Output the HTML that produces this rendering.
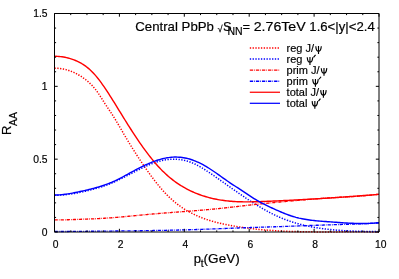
<!DOCTYPE html>
<html><head><meta charset="utf-8"><title>RAA vs pt</title>
<style>
html,body{margin:0;padding:0;background:#fff;width:399px;height:279px;overflow:hidden}
body{font-family:"Liberation Sans",sans-serif;position:relative}
svg text{font-family:"Liberation Sans",sans-serif}
svg{filter:blur(0.3px)}
</style></head><body>
<svg width="399" height="279" viewBox="0 0 399 279" style="position:absolute;left:0;top:0">
<rect width="399" height="279" fill="#fff"/>
<g fill="none" stroke-linejoin="round">
<path d="M54.50,68.26 L54.90,68.26 L55.30,68.26 L55.70,68.26 L55.80,68.27 M57.30,68.32 L57.70,68.34 L58.10,68.36 L58.50,68.39 L58.60,68.40 M60.05,68.55 L60.45,68.59 L60.85,68.65 L61.25,68.70 L61.35,68.72 M62.80,68.95 L63.20,69.03 L63.60,69.11 L64.00,69.19 L64.10,69.21 M65.55,69.54 L65.95,69.64 L66.35,69.75 L66.75,69.86 L66.80,69.87 M68.20,70.29 L68.60,70.41 L69.00,70.54 L69.40,70.68 L69.45,70.70 M70.85,71.20 L71.25,71.36 L71.65,71.51 L72.05,71.68 M73.40,72.25 L73.80,72.43 L74.20,72.62 L74.60,72.81 M75.90,73.45 L76.30,73.65 L76.70,73.86 L77.05,74.05 M78.35,74.77 L78.75,75.00 L79.15,75.24 L79.50,75.45 M80.75,76.22 L81.15,76.48 L81.55,76.74 L81.85,76.94 M83.05,77.76 L83.45,78.04 L83.85,78.33 L84.10,78.51 M85.30,79.41 L85.70,79.71 L86.10,80.03 L86.30,80.19 M87.50,81.17 L87.90,81.51 L88.30,81.85 L88.45,81.99 M89.55,82.98 L89.95,83.36 L90.35,83.74 L90.50,83.89 M91.55,84.94 L91.95,85.35 L92.35,85.78 L92.45,85.89 M93.45,86.99 L93.85,87.45 L94.25,87.92 M95.25,89.14 L95.65,89.64 L96.00,90.09 M96.90,91.29 L97.30,91.84 L97.65,92.33 M98.50,93.56 L98.90,94.15 L99.20,94.61 M100.05,95.90 L100.45,96.53 L100.75,96.99 M101.55,98.26 L101.95,98.89 L102.20,99.29 M103.05,100.64 L103.45,101.27 L103.70,101.67 M104.50,102.93 L104.90,103.55 L105.20,104.01 M106.05,105.31 L106.45,105.91 L106.75,106.36 M107.60,107.63 L108.00,108.22 L108.30,108.66 M109.15,109.92 L109.55,110.51 L109.85,110.96 M110.70,112.22 L111.10,112.83 L111.40,113.28 M112.20,114.50 L112.60,115.12 L112.90,115.59 M113.70,116.86 L114.10,117.50 L114.35,117.90 M115.15,119.20 L115.55,119.86 L115.80,120.28 M116.60,121.61 L117.00,122.28 L117.25,122.71 M118.00,123.98 L118.40,124.66 L118.65,125.09 M119.40,126.38 L119.80,127.06 L120.05,127.49 M120.80,128.79 L121.20,129.48 L121.45,129.91 M122.20,131.21 L122.60,131.90 L122.85,132.33 M123.60,133.62 L124.00,134.30 L124.25,134.73 M125.00,136.01 L125.40,136.69 L125.65,137.11 M126.45,138.46 L126.85,139.13 L127.05,139.46 M127.85,140.79 L128.25,141.45 L128.50,141.86 M129.30,143.17 L129.70,143.82 L129.95,144.23 M130.75,145.53 L131.15,146.17 L131.40,146.57 M132.25,147.93 L132.65,148.57 L132.90,148.97 M133.70,150.23 L134.10,150.86 L134.40,151.33 M135.20,152.58 L135.60,153.21 L135.90,153.67 M136.70,154.91 L137.10,155.53 L137.40,155.99 M138.25,157.29 L138.65,157.90 L138.90,158.29 M139.75,159.58 L140.15,160.18 L140.45,160.63 M141.30,161.91 L141.70,162.50 L142.00,162.95 M142.85,164.21 L143.25,164.80 L143.55,165.24 M144.40,166.48 L144.80,167.07 L145.15,167.57 M146.00,168.80 L146.40,169.37 L146.70,169.80 M147.60,171.07 L148.00,171.64 L148.35,172.13 M149.20,173.31 L149.60,173.86 L149.95,174.35 M150.85,175.57 L151.25,176.12 L151.60,176.59 M152.50,177.79 L152.90,178.32 L153.25,178.79 M154.20,180.03 L154.60,180.55 L154.95,181.00 M155.90,182.21 L156.30,182.71 L156.70,183.22 M157.65,184.39 L158.05,184.88 L158.45,185.37 M159.40,186.52 L159.80,186.99 L160.20,187.47 M161.20,188.63 L161.60,189.09 L162.00,189.55 L162.05,189.60 M163.05,190.73 L163.45,191.17 L163.85,191.61 L163.90,191.67 M164.90,192.75 L165.30,193.17 L165.70,193.59 L165.80,193.70 M166.85,194.78 L167.25,195.19 L167.65,195.59 L167.75,195.69 M168.80,196.72 L169.20,197.11 L169.60,197.49 L169.75,197.63 M170.85,198.66 L171.25,199.02 L171.65,199.38 L171.80,199.52 M172.90,200.49 L173.30,200.84 L173.70,201.18 L173.90,201.35 M175.05,202.31 L175.45,202.63 L175.85,202.96 L176.05,203.12 M177.20,204.02 L177.60,204.33 L178.00,204.63 L178.25,204.82 M179.40,205.67 L179.80,205.96 L180.20,206.25 L180.45,206.43 M181.70,207.30 L182.10,207.57 L182.50,207.84 L182.75,208.00 M184.00,208.82 L184.40,209.07 L184.80,209.32 L185.10,209.51 M186.40,210.30 L186.80,210.54 L187.20,210.77 L187.50,210.95 M188.80,211.68 L189.20,211.91 L189.60,212.12 L189.90,212.29 M191.25,213.00 L191.65,213.21 L192.05,213.41 L192.40,213.59 M193.70,214.23 L194.10,214.43 L194.50,214.62 L194.90,214.80 M196.25,215.42 L196.65,215.60 L197.05,215.78 L197.40,215.94 M198.80,216.54 L199.20,216.70 L199.60,216.87 L200.00,217.03 M201.35,217.57 L201.75,217.73 L202.15,217.88 L202.55,218.03 M203.95,218.55 L204.35,218.70 L204.75,218.84 L205.15,218.98 L205.20,219.00 M206.60,219.48 L207.00,219.62 L207.40,219.75 L207.80,219.88 M209.20,220.33 L209.60,220.46 L210.00,220.58 L210.40,220.70 L210.45,220.72 M211.90,221.15 L212.30,221.26 L212.70,221.38 L213.10,221.49 L213.15,221.51 M214.55,221.89 L214.95,222.00 L215.35,222.10 L215.75,222.21 L215.80,222.22 M217.25,222.59 L217.65,222.69 L218.05,222.79 L218.45,222.89 L218.50,222.90 M219.95,223.25 L220.35,223.34 L220.75,223.43 L221.15,223.52 L221.20,223.54 M222.65,223.86 L223.05,223.94 L223.45,224.03 L223.85,224.12 L223.95,224.14 M225.40,224.44 L225.80,224.52 L226.20,224.60 L226.60,224.68 L226.65,224.69 M228.10,224.97 L228.50,225.05 L228.90,225.13 L229.30,225.20 L229.40,225.22 M230.85,225.49 L231.25,225.56 L231.65,225.64 L232.05,225.71 L232.10,225.72 M233.60,225.98 L234.00,226.05 L234.40,226.12 L234.80,226.19 L234.85,226.20 M236.30,226.44 L236.70,226.50 L237.10,226.57 L237.50,226.63 L237.60,226.65 M239.05,226.88 L239.45,226.94 L239.85,227.00 L240.25,227.06 L240.35,227.08 M241.80,227.30 L242.20,227.36 L242.60,227.41 L243.00,227.47 L243.10,227.49 M244.55,227.69 L244.95,227.75 L245.35,227.80 L245.75,227.86 L245.85,227.87 M247.30,228.06 L247.70,228.11 L248.10,228.17 L248.50,228.22 L248.60,228.23 M250.10,228.42 L250.50,228.47 L250.90,228.52 L251.30,228.56 L251.35,228.57 M252.85,228.75 L253.25,228.79 L253.65,228.84 L254.05,228.88 L254.15,228.89 M255.60,229.05 L256.00,229.10 L256.40,229.14 L256.80,229.18 L256.90,229.19 M258.35,229.34 L258.75,229.38 L259.15,229.42 L259.55,229.46 L259.65,229.47 M261.15,229.61 L261.55,229.65 L261.95,229.69 L262.35,229.72 L262.45,229.73 M263.90,229.86 L264.30,229.90 L264.70,229.93 L265.10,229.96 L265.20,229.97 M266.65,230.09 L267.05,230.12 L267.45,230.16 L267.85,230.19 L267.95,230.19 M269.45,230.31 L269.85,230.34 L270.25,230.37 L270.65,230.40 L270.75,230.40 M272.20,230.50 L272.60,230.53 L273.00,230.56 L273.40,230.59 L273.50,230.59 M275.00,230.69 L275.40,230.71 L275.80,230.74 L276.20,230.76 L276.30,230.77 M277.75,230.85 L278.15,230.88 L278.55,230.90 L278.95,230.92 L279.05,230.93 M280.55,231.00 L280.95,231.03 L281.35,231.05 L281.75,231.07 L281.85,231.07 M283.30,231.14 L283.70,231.16 L284.10,231.18 L284.50,231.19 L284.60,231.20 M286.10,231.26 L286.50,231.28 L286.90,231.30 L287.30,231.31 L287.40,231.32 M288.90,231.37 L289.30,231.39 L289.70,231.40 L290.10,231.42 L290.15,231.42 M291.65,231.47 L292.05,231.48 L292.45,231.50 L292.85,231.51 L292.95,231.51 M294.45,231.56 L294.85,231.57 L295.25,231.58 L295.65,231.59 L295.75,231.59 M297.20,231.63 L297.60,231.64 L298.00,231.65 L298.40,231.66 L298.50,231.66 M300.00,231.70 L300.40,231.70 L300.80,231.71 L301.20,231.72 L301.30,231.72 M302.75,231.75 L303.15,231.76 L303.55,231.76 L303.95,231.77 L304.05,231.77 M305.55,231.80 L305.95,231.80 L306.35,231.81 L306.75,231.81 L306.85,231.81 M308.35,231.83 L308.75,231.84 L309.15,231.84 L309.55,231.85 L309.65,231.85 M311.10,231.86 L311.50,231.86 L311.90,231.87 L312.30,231.87 L312.40,231.87 M313.90,231.88 L314.30,231.89 L314.70,231.89 L315.10,231.89 L315.20,231.89 M316.65,231.90 L317.05,231.90 L317.45,231.90 L317.85,231.90 L317.95,231.90 M319.45,231.90 L319.85,231.90 L320.25,231.90 L320.65,231.90 L320.75,231.90 M322.25,231.90 L322.65,231.90 L323.05,231.90 L323.45,231.90 L323.55,231.90 M325.00,231.90 L325.40,231.90 L325.80,231.90 L326.20,231.90 L326.30,231.90 M327.80,231.90 L328.20,231.90 L328.60,231.90 L329.00,231.90 L329.10,231.90 M330.55,231.90 L330.95,231.90 L331.35,231.90 L331.75,231.90 L331.85,231.90 M333.35,231.90 L333.75,231.90 L334.15,231.89 L334.55,231.89 L334.65,231.89 M336.15,231.89 L336.55,231.88 L336.95,231.88 L337.35,231.88 L337.45,231.88 M338.90,231.87 L339.30,231.87 L339.70,231.87 L340.10,231.87 L340.20,231.87 M341.70,231.86 L342.10,231.86 L342.50,231.86 L342.90,231.86 L343.00,231.86 M344.45,231.85 L344.85,231.85 L345.25,231.85 L345.65,231.85 L345.75,231.85 M347.25,231.84 L347.65,231.84 L348.05,231.84 L348.45,231.84 L348.55,231.84 M350.05,231.83 L350.45,231.83 L350.85,231.83 L351.25,231.83 L351.35,231.83 M352.80,231.83 L353.20,231.82 L353.60,231.82 L354.00,231.82 L354.10,231.82 M355.60,231.82 L356.00,231.82 L356.40,231.82 L356.80,231.82 L356.90,231.82 M358.35,231.82 L358.75,231.82 L359.15,231.82 L359.55,231.82 L359.65,231.82 M361.15,231.83 L361.55,231.83 L361.95,231.83 L362.35,231.83 L362.45,231.83 M363.95,231.83 L364.35,231.84 L364.75,231.84 L365.15,231.84 L365.25,231.84 M366.70,231.85 L367.10,231.85 L367.50,231.85 L367.90,231.86 L368.00,231.86 M369.50,231.87 L369.90,231.87 L370.30,231.88 L370.70,231.88 L370.80,231.88 M372.25,231.90 L372.65,231.90 L373.05,231.90 L373.45,231.90 L373.55,231.90 M375.05,231.90 L375.45,231.90 L375.85,231.90 L376.25,231.90 L376.35,231.90 M377.85,231.90 L378.25,231.90 L378.65,231.90 L379.00,231.90" stroke="#ff0000" stroke-width="1.5"/>
<path d="M54.50,195.29 L54.90,195.29 L55.30,195.29 L55.70,195.29 L55.80,195.28 M57.30,195.25 L57.70,195.24 L58.10,195.22 L58.50,195.21 L58.60,195.20 M60.10,195.13 L60.50,195.11 L60.90,195.08 L61.30,195.05 L61.40,195.05 M62.85,194.94 L63.25,194.90 L63.65,194.87 L64.05,194.83 L64.15,194.82 M65.60,194.68 L66.00,194.64 L66.40,194.59 L66.80,194.55 L66.90,194.54 M68.40,194.35 L68.80,194.30 L69.20,194.25 L69.60,194.19 L69.65,194.19 M71.15,193.97 L71.55,193.91 L71.95,193.85 L72.35,193.79 L72.40,193.78 M73.90,193.54 L74.30,193.47 L74.70,193.40 L75.10,193.33 L75.15,193.32 M76.60,193.06 L77.00,192.99 L77.40,192.91 L77.80,192.83 L77.90,192.81 M79.35,192.53 L79.75,192.45 L80.15,192.36 L80.55,192.28 L80.60,192.27 M82.05,191.96 L82.45,191.87 L82.85,191.79 L83.25,191.70 L83.35,191.68 M84.80,191.35 L85.20,191.25 L85.60,191.16 L86.00,191.07 L86.05,191.05 M87.50,190.71 L87.90,190.61 L88.30,190.51 L88.70,190.41 L88.75,190.40 M90.20,190.04 L90.60,189.94 L91.00,189.83 L91.40,189.73 L91.45,189.72 M92.90,189.34 L93.30,189.23 L93.70,189.13 L94.10,189.02 L94.15,189.01 M95.55,188.62 L95.95,188.51 L96.35,188.40 L96.75,188.28 L96.80,188.27 M98.25,187.85 L98.65,187.73 L99.05,187.61 L99.45,187.49 L99.50,187.47 M100.90,187.04 L101.30,186.91 L101.70,186.78 L102.10,186.66 L102.15,186.64 M103.55,186.17 L103.95,186.04 L104.35,185.90 L104.75,185.76 M106.15,185.26 L106.55,185.11 L106.95,184.97 L107.35,184.82 L107.40,184.80 M108.75,184.28 L109.15,184.12 L109.55,183.96 L109.95,183.80 M111.35,183.22 L111.75,183.05 L112.15,182.88 L112.55,182.71 M113.90,182.11 L114.30,181.94 L114.70,181.76 L115.05,181.60 M116.40,180.98 L116.80,180.79 L117.20,180.60 L117.60,180.41 M118.95,179.77 L119.35,179.57 L119.75,179.38 L120.10,179.21 M121.45,178.54 L121.85,178.34 L122.25,178.14 L122.60,177.97 M123.90,177.31 L124.30,177.11 L124.70,176.91 L125.05,176.73 M126.40,176.03 L126.80,175.83 L127.20,175.62 L127.55,175.44 M128.85,174.76 L129.25,174.56 L129.65,174.35 L130.00,174.17 M131.30,173.49 L131.70,173.28 L132.10,173.07 L132.45,172.89 M133.80,172.19 L134.20,171.98 L134.60,171.78 L134.95,171.60 M136.25,170.93 L136.65,170.73 L137.05,170.52 L137.40,170.34 M138.75,169.66 L139.15,169.46 L139.55,169.26 L139.90,169.09 M141.25,168.43 L141.65,168.23 L142.05,168.04 L142.40,167.87 M143.75,167.23 L144.15,167.04 L144.55,166.85 L144.90,166.69 M146.25,166.08 L146.65,165.90 L147.05,165.72 L147.45,165.55 M148.80,164.96 L149.20,164.80 L149.60,164.63 L150.00,164.46 M151.40,163.90 L151.80,163.74 L152.20,163.59 L152.60,163.44 M154.00,162.92 L154.40,162.78 L154.80,162.64 L155.20,162.50 M156.60,162.03 L157.00,161.90 L157.40,161.78 L157.80,161.66 L157.85,161.64 M159.30,161.22 L159.70,161.11 L160.10,161.00 L160.50,160.90 L160.55,160.88 M161.95,160.54 L162.35,160.45 L162.75,160.36 L163.15,160.28 L163.25,160.26 M164.70,159.98 L165.10,159.91 L165.50,159.84 L165.90,159.77 L165.95,159.77 M167.45,159.55 L167.85,159.51 L168.25,159.46 L168.65,159.42 L168.75,159.41 M170.20,159.28 L170.60,159.25 L171.00,159.23 L171.40,159.21 L171.50,159.20 M173.00,159.16 L173.40,159.16 L173.80,159.15 L174.20,159.16 L174.30,159.16 M175.75,159.20 L176.15,159.21 L176.55,159.24 L176.95,159.26 L177.05,159.27 M178.55,159.40 L178.95,159.44 L179.35,159.49 L179.75,159.53 L179.80,159.54 M181.30,159.76 L181.70,159.82 L182.10,159.89 L182.50,159.97 L182.55,159.98 M184.00,160.27 L184.40,160.36 L184.80,160.46 L185.20,160.56 L185.30,160.58 M186.70,160.95 L187.10,161.07 L187.50,161.19 L187.90,161.31 L187.95,161.32 M189.35,161.78 L189.75,161.92 L190.15,162.06 L190.55,162.21 L190.60,162.23 M191.95,162.75 L192.35,162.92 L192.75,163.08 L193.15,163.25 M194.50,163.86 L194.90,164.05 L195.30,164.24 L195.70,164.43 M197.00,165.08 L197.40,165.29 L197.80,165.50 L198.15,165.68 M199.45,166.40 L199.85,166.62 L200.25,166.85 L200.60,167.05 M201.90,167.81 L202.30,168.05 L202.70,168.30 L203.00,168.48 M204.25,169.25 L204.65,169.51 L205.05,169.76 L205.35,169.95 M206.60,170.76 L207.00,171.02 L207.40,171.29 L207.65,171.45 M208.90,172.29 L209.30,172.56 L209.70,172.83 L209.95,173.00 M211.20,173.86 L211.60,174.13 L212.00,174.41 L212.25,174.58 M213.50,175.45 L213.90,175.73 L214.30,176.01 L214.55,176.19 M215.75,177.03 L216.15,177.31 L216.55,177.59 L216.80,177.77 M218.05,178.65 L218.45,178.93 L218.85,179.21 L219.10,179.39 M220.30,180.23 L220.70,180.52 L221.10,180.80 L221.35,180.98 M222.60,181.86 L223.00,182.14 L223.40,182.43 L223.65,182.60 M224.85,183.45 L225.25,183.73 L225.65,184.02 L225.90,184.19 M227.10,185.04 L227.50,185.33 L227.90,185.61 L228.15,185.78 M229.40,186.67 L229.80,186.95 L230.20,187.23 L230.45,187.41 M231.65,188.25 L232.05,188.53 L232.45,188.81 L232.70,188.99 M233.95,189.86 L234.35,190.14 L234.75,190.42 L235.00,190.60 M236.20,191.43 L236.60,191.71 L237.00,191.99 L237.30,192.20 M238.50,193.03 L238.90,193.30 L239.30,193.58 L239.55,193.75 M240.80,194.61 L241.20,194.88 L241.60,195.16 L241.85,195.33 M243.10,196.18 L243.50,196.45 L243.90,196.72 L244.15,196.89 M245.40,197.73 L245.80,198.00 L246.20,198.26 L246.45,198.43 M247.70,199.26 L248.10,199.53 L248.50,199.79 L248.80,199.99 M250.05,200.80 L250.45,201.06 L250.85,201.32 L251.10,201.49 M252.35,202.29 L252.75,202.55 L253.15,202.80 L253.45,202.99 M254.70,203.78 L255.10,204.03 L255.50,204.28 L255.80,204.47 M257.05,205.24 L257.45,205.49 L257.85,205.73 L258.20,205.95 M259.45,206.70 L259.85,206.94 L260.25,207.18 L260.55,207.36 M261.85,208.12 L262.25,208.36 L262.65,208.59 L262.95,208.76 M264.25,209.50 L264.65,209.73 L265.05,209.96 L265.40,210.15 M266.70,210.87 L267.10,211.09 L267.50,211.31 L267.80,211.47 M269.10,212.17 L269.50,212.38 L269.90,212.59 L270.25,212.77 M271.60,213.47 L272.00,213.67 L272.40,213.87 L272.75,214.04 M274.10,214.71 L274.50,214.90 L274.90,215.09 L275.25,215.26 M276.60,215.89 L277.00,216.08 L277.40,216.26 L277.75,216.42 M279.10,217.02 L279.50,217.19 L279.90,217.37 L280.30,217.54 M281.70,218.13 L282.10,218.29 L282.50,218.45 L282.90,218.62 M284.25,219.15 L284.65,219.31 L285.05,219.46 L285.45,219.61 M286.85,220.13 L287.25,220.28 L287.65,220.43 L288.05,220.57 L288.10,220.59 M289.50,221.08 L289.90,221.21 L290.30,221.35 L290.70,221.48 M292.10,221.94 L292.50,222.07 L292.90,222.20 L293.30,222.33 L293.35,222.34 M294.75,222.77 L295.15,222.89 L295.55,223.01 L295.95,223.13 L296.00,223.14 M297.45,223.56 L297.85,223.67 L298.25,223.78 L298.65,223.89 L298.70,223.91 M300.10,224.28 L300.50,224.38 L300.90,224.49 L301.30,224.59 L301.40,224.61 M302.80,224.96 L303.20,225.06 L303.60,225.16 L304.00,225.25 L304.10,225.27 M305.50,225.60 L305.90,225.69 L306.30,225.78 L306.70,225.86 L306.80,225.88 M308.25,226.19 L308.65,226.28 L309.05,226.36 L309.45,226.44 L309.50,226.45 M310.95,226.74 L311.35,226.81 L311.75,226.89 L312.15,226.96 L312.25,226.98 M313.70,227.25 L314.10,227.32 L314.50,227.39 L314.90,227.46 L315.00,227.47 M316.45,227.71 L316.85,227.78 L317.25,227.84 L317.65,227.91 L317.70,227.92 M319.20,228.15 L319.60,228.21 L320.00,228.26 L320.40,228.32 L320.45,228.33 M321.95,228.54 L322.35,228.60 L322.75,228.65 L323.15,228.70 L323.25,228.72 M324.70,228.90 L325.10,228.95 L325.50,229.00 L325.90,229.05 L326.00,229.06 M327.45,229.23 L327.85,229.28 L328.25,229.32 L328.65,229.37 L328.75,229.38 M330.20,229.53 L330.60,229.58 L331.00,229.62 L331.40,229.66 L331.50,229.67 M333.00,229.81 L333.40,229.85 L333.80,229.89 L334.20,229.92 L334.30,229.93 M335.75,230.06 L336.15,230.09 L336.55,230.13 L336.95,230.16 L337.05,230.17 M338.50,230.28 L338.90,230.31 L339.30,230.34 L339.70,230.37 L339.80,230.38 M341.30,230.48 L341.70,230.51 L342.10,230.53 L342.50,230.56 L342.60,230.57 M344.05,230.65 L344.45,230.68 L344.85,230.70 L345.25,230.72 L345.35,230.73 M346.85,230.81 L347.25,230.83 L347.65,230.85 L348.05,230.87 L348.15,230.88 M349.60,230.95 L350.00,230.96 L350.40,230.98 L350.80,231.00 L350.90,231.00 M352.40,231.07 L352.80,231.08 L353.20,231.10 L353.60,231.11 L353.70,231.11 M355.20,231.17 L355.60,231.18 L356.00,231.19 L356.40,231.21 L356.50,231.21 M357.95,231.25 L358.35,231.27 L358.75,231.28 L359.15,231.29 L359.25,231.29 M360.75,231.33 L361.15,231.34 L361.55,231.35 L361.95,231.36 L362.05,231.36 M363.50,231.39 L363.90,231.40 L364.30,231.41 L364.70,231.41 L364.80,231.42 M366.30,231.44 L366.70,231.45 L367.10,231.46 L367.50,231.46 L367.60,231.46 M369.10,231.49 L369.50,231.49 L369.90,231.50 L370.30,231.50 L370.35,231.50 M371.85,231.52 L372.25,231.53 L372.65,231.53 L373.05,231.54 L373.15,231.54 M374.65,231.55 L375.05,231.56 L375.45,231.56 L375.85,231.57 L375.95,231.57 M377.40,231.58 L377.80,231.59 L378.20,231.59 L378.60,231.59 L378.70,231.59" stroke="#0000ff" stroke-width="1.5"/>
<path d="M54.50,219.94 L54.90,219.94 L55.30,219.94 L55.70,219.94 L56.10,219.94 L56.50,219.94 L56.90,219.94 L57.30,219.93 L57.70,219.93 L57.80,219.93 M58.85,219.92 L59.25,219.92 L59.55,219.91 M60.60,219.90 L61.00,219.89 L61.40,219.88 L61.80,219.88 L62.20,219.87 L62.60,219.86 L63.00,219.85 L63.40,219.85 L63.80,219.84 L63.90,219.83 M64.95,219.81 L65.35,219.80 L65.65,219.79 M66.65,219.76 L67.05,219.75 L67.45,219.74 L67.85,219.73 L68.25,219.72 L68.65,219.71 L69.05,219.69 L69.45,219.68 L69.85,219.67 L69.95,219.67 M71.00,219.63 L71.40,219.62 L71.70,219.61 M72.75,219.57 L73.15,219.56 L73.55,219.54 L73.95,219.53 L74.35,219.52 L74.75,219.50 L75.15,219.49 L75.55,219.47 L75.95,219.46 L76.05,219.45 M77.10,219.42 L77.50,219.40 L77.80,219.39 M78.80,219.35 L79.20,219.34 L79.60,219.33 L80.00,219.31 L80.40,219.30 L80.80,219.28 L81.20,219.27 L81.60,219.25 L82.00,219.24 L82.10,219.24 M83.15,219.20 L83.55,219.18 L83.85,219.17 M84.85,219.14 L85.25,219.12 L85.65,219.11 L86.05,219.09 L86.45,219.08 L86.85,219.06 L87.25,219.05 L87.65,219.03 L88.05,219.02 L88.15,219.02 M89.20,218.98 L89.60,218.96 L89.90,218.95 M90.95,218.91 L91.35,218.89 L91.75,218.88 L92.15,218.86 L92.55,218.85 L92.95,218.83 L93.35,218.81 L93.75,218.80 L94.15,218.78 L94.25,218.77 M95.25,218.73 L95.65,218.71 L95.95,218.70 M97.00,218.65 L97.40,218.63 L97.80,218.61 L98.20,218.60 L98.60,218.58 L99.00,218.56 L99.40,218.54 L99.80,218.52 L100.20,218.49 L100.30,218.49 M101.35,218.43 L101.75,218.41 L102.05,218.40 M103.05,218.34 L103.45,218.32 L103.85,218.29 L104.25,218.27 L104.65,218.24 L105.05,218.22 L105.45,218.19 L105.85,218.17 L106.25,218.14 L106.35,218.14 M107.40,218.07 L107.80,218.04 L108.10,218.02 M109.10,217.95 L109.50,217.92 L109.90,217.89 L110.30,217.86 L110.70,217.83 L111.10,217.80 L111.50,217.77 L111.90,217.74 L112.30,217.71 L112.40,217.70 M113.45,217.62 L113.85,217.59 L114.15,217.57 M115.15,217.49 L115.55,217.45 L115.95,217.42 L116.35,217.39 L116.75,217.35 L117.15,217.32 L117.55,217.29 L117.95,217.25 L118.35,217.22 L118.45,217.21 M119.50,217.12 L119.90,217.08 L120.20,217.05 M121.20,216.97 L121.60,216.93 L122.00,216.89 L122.40,216.86 L122.80,216.82 L123.20,216.78 L123.60,216.75 L124.00,216.71 L124.40,216.67 L124.50,216.67 M125.55,216.57 L125.95,216.53 L126.25,216.50 M127.25,216.41 L127.65,216.37 L128.05,216.33 L128.45,216.29 L128.85,216.26 L129.25,216.22 L129.65,216.18 L130.05,216.14 L130.45,216.10 L130.55,216.09 M131.60,215.99 L132.00,215.95 L132.30,215.92 M133.30,215.83 L133.70,215.79 L134.10,215.75 L134.50,215.71 L134.90,215.67 L135.30,215.63 L135.70,215.59 L136.10,215.56 L136.50,215.52 L136.60,215.51 M137.65,215.41 L138.05,215.37 L138.30,215.34 M139.35,215.24 L139.75,215.20 L140.15,215.16 L140.55,215.13 L140.95,215.09 L141.35,215.05 L141.75,215.01 L142.15,214.97 L142.55,214.93 L142.60,214.93 M143.65,214.83 L144.05,214.79 L144.35,214.76 M145.40,214.66 L145.80,214.63 L146.20,214.59 L146.60,214.55 L147.00,214.52 L147.40,214.48 L147.80,214.44 L148.20,214.40 L148.60,214.37 L148.65,214.36 M149.70,214.27 L150.10,214.23 L150.40,214.21 M151.45,214.11 L151.85,214.08 L152.25,214.04 L152.65,214.01 L153.05,213.97 L153.45,213.94 L153.85,213.90 L154.25,213.87 L154.65,213.84 L154.70,213.83 M155.75,213.74 L156.15,213.71 L156.45,213.68 M157.50,213.60 L157.90,213.56 L158.30,213.53 L158.70,213.50 L159.10,213.46 L159.50,213.43 L159.90,213.40 L160.30,213.37 L160.70,213.33 L160.75,213.33 M161.80,213.25 L162.20,213.21 L162.50,213.19 M163.55,213.11 L163.95,213.07 L164.35,213.04 L164.75,213.01 L165.15,212.98 L165.55,212.95 L165.95,212.92 L166.35,212.89 L166.75,212.86 L166.80,212.85 M167.85,212.77 L168.25,212.74 L168.55,212.72 M169.60,212.64 L170.00,212.61 L170.40,212.58 L170.80,212.55 L171.20,212.51 L171.60,212.48 L172.00,212.45 L172.40,212.42 L172.80,212.39 L172.85,212.39 M173.90,212.31 L174.30,212.28 L174.60,212.26 M175.65,212.18 L176.05,212.15 L176.45,212.12 L176.85,212.09 L177.25,212.06 L177.65,212.03 L178.05,212.00 L178.45,211.97 L178.85,211.94 L178.90,211.94 M179.95,211.86 L180.35,211.83 L180.65,211.80 M181.70,211.73 L182.10,211.70 L182.50,211.67 L182.90,211.64 L183.30,211.60 L183.70,211.57 L184.10,211.54 L184.50,211.51 L184.90,211.48 L184.95,211.48 M186.00,211.40 L186.40,211.37 L186.70,211.35 M187.75,211.27 L188.15,211.24 L188.55,211.21 L188.95,211.18 L189.35,211.14 L189.75,211.11 L190.15,211.08 L190.55,211.05 L190.95,211.02 L191.05,211.01 M192.05,210.93 L192.45,210.90 L192.75,210.88 M193.80,210.80 L194.20,210.77 L194.60,210.73 L195.00,210.70 L195.40,210.67 L195.80,210.64 L196.20,210.61 L196.60,210.57 L197.00,210.54 L197.10,210.53 M198.10,210.45 L198.50,210.42 L198.80,210.39 M199.85,210.31 L200.25,210.27 L200.65,210.24 L201.05,210.21 L201.45,210.17 L201.85,210.14 L202.25,210.10 L202.65,210.07 L203.05,210.04 L203.15,210.03 M204.15,209.94 L204.55,209.91 L204.85,209.88 M205.90,209.79 L206.30,209.75 L206.70,209.72 L207.10,209.68 L207.50,209.65 L207.90,209.61 L208.30,209.57 L208.70,209.54 L209.10,209.50 L209.15,209.49 M210.20,209.40 L210.60,209.36 L210.90,209.33 M211.95,209.23 L212.35,209.19 L212.75,209.16 L213.15,209.12 L213.55,209.08 L213.95,209.04 L214.35,209.00 L214.75,208.96 L215.15,208.92 L215.20,208.92 M216.25,208.81 L216.65,208.77 L216.95,208.74 M217.95,208.64 L218.35,208.60 L218.75,208.56 L219.15,208.52 L219.55,208.47 L219.95,208.43 L220.35,208.39 L220.75,208.35 L221.15,208.31 L221.25,208.29 M222.30,208.18 L222.70,208.14 L223.00,208.11 M224.00,208.00 L224.40,207.96 L224.80,207.91 L225.20,207.87 L225.60,207.82 L226.00,207.78 L226.40,207.74 L226.80,207.69 L227.20,207.65 L227.30,207.64 M228.35,207.52 L228.75,207.47 L229.05,207.44 M230.05,207.33 L230.45,207.28 L230.85,207.24 L231.25,207.19 L231.65,207.15 L232.05,207.10 L232.45,207.06 L232.85,207.01 L233.25,206.96 L233.30,206.96 M234.35,206.84 L234.75,206.79 L235.05,206.76 M236.05,206.64 L236.45,206.60 L236.85,206.55 L237.25,206.50 L237.65,206.46 L238.05,206.41 L238.45,206.37 L238.85,206.32 L239.25,206.27 L239.35,206.26 M240.40,206.14 L240.80,206.09 L241.10,206.06 M242.10,205.94 L242.50,205.90 L242.90,205.85 L243.30,205.81 L243.70,205.76 L244.10,205.71 L244.50,205.67 L244.90,205.62 L245.30,205.58 L245.40,205.56 M246.40,205.45 L246.80,205.40 L247.10,205.37 M248.15,205.25 L248.55,205.20 L248.95,205.16 L249.35,205.11 L249.75,205.07 L250.15,205.02 L250.55,204.98 L250.95,204.93 L251.35,204.89 L251.40,204.88 M252.45,204.76 L252.85,204.72 L253.15,204.69 M254.15,204.58 L254.55,204.53 L254.95,204.49 L255.35,204.44 L255.75,204.40 L256.15,204.36 L256.55,204.31 L256.95,204.27 L257.35,204.23 L257.45,204.22 M258.50,204.10 L258.90,204.06 L259.20,204.03 M260.20,203.92 L260.60,203.88 L261.00,203.84 L261.40,203.80 L261.80,203.76 L262.20,203.72 L262.60,203.68 L263.00,203.63 L263.40,203.59 L263.50,203.58 M264.55,203.48 L264.95,203.44 L265.20,203.41 M266.25,203.31 L266.65,203.27 L267.05,203.23 L267.45,203.19 L267.85,203.15 L268.25,203.11 L268.65,203.07 L269.05,203.03 L269.45,202.99 L269.50,202.99 M270.55,202.89 L270.95,202.85 L271.25,202.82 M272.30,202.72 L272.70,202.68 L273.10,202.64 L273.50,202.60 L273.90,202.57 L274.30,202.53 L274.70,202.49 L275.10,202.45 L275.50,202.42 L275.55,202.41 M276.60,202.31 L277.00,202.28 L277.30,202.25 M278.30,202.16 L278.70,202.12 L279.10,202.08 L279.50,202.04 L279.90,202.01 L280.30,201.97 L280.70,201.93 L281.10,201.90 L281.50,201.86 L281.60,201.85 M282.65,201.75 L283.05,201.72 L283.35,201.69 M284.35,201.60 L284.75,201.56 L285.15,201.52 L285.55,201.49 L285.95,201.45 L286.35,201.41 L286.75,201.38 L287.15,201.34 L287.55,201.30 L287.65,201.29 M288.70,201.20 L289.10,201.16 L289.40,201.13 M290.40,201.04 L290.80,201.01 L291.20,200.97 L291.60,200.93 L292.00,200.90 L292.40,200.86 L292.80,200.83 L293.20,200.79 L293.60,200.75 L293.70,200.74 M294.75,200.65 L295.15,200.61 L295.45,200.59 M296.45,200.50 L296.85,200.46 L297.25,200.42 L297.65,200.39 L298.05,200.35 L298.45,200.32 L298.85,200.28 L299.25,200.25 L299.65,200.21 L299.75,200.20 M300.80,200.11 L301.20,200.07 L301.50,200.05 M302.50,199.96 L302.90,199.93 L303.30,199.89 L303.70,199.86 L304.10,199.82 L304.50,199.79 L304.90,199.75 L305.30,199.72 L305.70,199.68 L305.80,199.68 M306.85,199.59 L307.25,199.55 L307.55,199.53 M308.55,199.44 L308.95,199.41 L309.35,199.38 L309.75,199.34 L310.15,199.31 L310.55,199.28 L310.95,199.25 L311.35,199.21 L311.75,199.18 L311.85,199.17 M312.90,199.09 L313.30,199.06 L313.60,199.03 M314.60,198.95 L315.00,198.92 L315.40,198.89 L315.80,198.86 L316.20,198.83 L316.60,198.80 L317.00,198.77 L317.40,198.73 L317.80,198.70 L317.90,198.70 M318.95,198.62 L319.35,198.59 L319.65,198.56 M320.65,198.49 L321.05,198.46 L321.45,198.43 L321.85,198.40 L322.25,198.38 L322.65,198.35 L323.05,198.32 L323.45,198.29 L323.85,198.26 L323.95,198.26 M325.00,198.18 L325.40,198.16 L325.70,198.13 M326.70,198.07 L327.10,198.04 L327.50,198.01 L327.90,197.99 L328.30,197.96 L328.70,197.94 L329.10,197.91 L329.50,197.89 L329.90,197.86 L330.00,197.85 M331.05,197.79 L331.45,197.77 L331.75,197.75 M332.75,197.69 L333.15,197.66 L333.55,197.64 L333.95,197.62 L334.35,197.59 L334.75,197.57 L335.15,197.55 L335.55,197.52 L335.95,197.50 L336.05,197.50 M337.10,197.44 L337.50,197.41 L337.80,197.40 M338.85,197.34 L339.25,197.32 L339.65,197.30 L340.05,197.27 L340.45,197.25 L340.85,197.23 L341.25,197.21 L341.65,197.19 L342.05,197.16 L342.10,197.16 M343.15,197.10 L343.55,197.08 L343.85,197.06 M344.90,197.01 L345.30,196.98 L345.70,196.96 L346.10,196.94 L346.50,196.92 L346.90,196.89 L347.30,196.87 L347.70,196.85 L348.10,196.83 L348.20,196.82 M349.25,196.76 L349.65,196.74 L349.95,196.72 M350.95,196.66 L351.35,196.64 L351.75,196.61 L352.15,196.59 L352.55,196.56 L352.95,196.54 L353.35,196.51 L353.75,196.49 L354.15,196.46 L354.25,196.46 M355.30,196.39 L355.70,196.36 L356.00,196.34 M357.00,196.28 L357.40,196.25 L357.80,196.22 L358.20,196.20 L358.60,196.17 L359.00,196.14 L359.40,196.11 L359.80,196.08 L360.20,196.05 L360.30,196.05 M361.35,195.97 L361.75,195.94 L362.05,195.91 M363.05,195.84 L363.45,195.80 L363.85,195.77 L364.25,195.74 L364.65,195.70 L365.05,195.67 L365.45,195.64 L365.85,195.60 L366.25,195.57 L366.35,195.56 M367.40,195.47 L367.80,195.43 L368.10,195.40 M369.10,195.31 L369.50,195.27 L369.90,195.23 L370.30,195.19 L370.70,195.15 L371.10,195.11 L371.50,195.07 L371.90,195.03 L372.30,194.99 L372.40,194.98 M373.45,194.86 L373.85,194.82 L374.15,194.79 M375.15,194.67 L375.55,194.63 L375.95,194.58 L376.35,194.53 L376.75,194.48 L377.15,194.43 L377.55,194.38 L377.95,194.33 L378.35,194.28 L378.40,194.28" stroke="#ff0000" stroke-width="1.35"/>
<path d="M54.50,231.49 L54.90,231.49 L55.30,231.49 L55.70,231.49 L56.10,231.49 L56.50,231.49 L56.90,231.49 L57.30,231.49 L57.70,231.49 L57.80,231.49 M58.85,231.48 L59.25,231.48 L59.55,231.48 M60.60,231.48 L61.00,231.48 L61.40,231.48 L61.80,231.48 L62.20,231.48 L62.60,231.47 L63.00,231.47 L63.40,231.47 L63.80,231.47 L63.90,231.47 M64.95,231.47 L65.35,231.46 L65.65,231.46 M66.65,231.46 L67.05,231.46 L67.45,231.45 L67.85,231.45 L68.25,231.45 L68.65,231.45 L69.05,231.44 L69.45,231.44 L69.85,231.44 L69.95,231.44 M71.00,231.43 L71.40,231.43 L71.70,231.43 M72.75,231.42 L73.15,231.42 L73.55,231.42 L73.95,231.41 L74.35,231.41 L74.75,231.41 L75.15,231.40 L75.55,231.40 L75.95,231.40 L76.05,231.40 M77.10,231.39 L77.50,231.39 L77.80,231.38 M78.80,231.38 L79.20,231.37 L79.60,231.37 L80.00,231.37 L80.40,231.36 L80.80,231.36 L81.20,231.35 L81.60,231.35 L82.00,231.35 L82.10,231.35 M83.15,231.34 L83.55,231.33 L83.85,231.33 M84.85,231.32 L85.25,231.32 L85.65,231.31 L86.05,231.31 L86.45,231.31 L86.85,231.30 L87.25,231.30 L87.65,231.29 L88.05,231.29 L88.15,231.29 M89.20,231.28 L89.60,231.28 L89.90,231.27 M90.95,231.26 L91.35,231.26 L91.75,231.25 L92.15,231.25 L92.55,231.25 L92.95,231.24 L93.35,231.24 L93.75,231.23 L94.15,231.23 L94.25,231.23 M95.30,231.22 L95.70,231.21 L96.00,231.21 M97.00,231.20 L97.40,231.19 L97.80,231.19 L98.20,231.19 L98.60,231.18 L99.00,231.18 L99.40,231.17 L99.80,231.17 L100.20,231.16 L100.30,231.16 M101.35,231.15 L101.75,231.15 L102.05,231.15 M103.10,231.13 L103.50,231.13 L103.90,231.13 L104.30,231.12 L104.70,231.12 L105.10,231.11 L105.50,231.11 L105.90,231.10 L106.30,231.10 L106.40,231.10 M107.45,231.09 L107.85,231.08 L108.15,231.08 M109.15,231.07 L109.55,231.07 L109.95,231.06 L110.35,231.06 L110.75,231.05 L111.15,231.05 L111.55,231.05 L111.95,231.04 L112.35,231.04 L112.45,231.04 M113.50,231.03 L113.90,231.02 L114.20,231.02 M115.20,231.01 L115.60,231.00 L116.00,231.00 L116.40,231.00 L116.80,230.99 L117.20,230.99 L117.60,230.98 L118.00,230.98 L118.40,230.98 L118.50,230.97 M119.55,230.96 L119.95,230.96 L120.25,230.96 M121.30,230.95 L121.70,230.94 L122.10,230.94 L122.50,230.93 L122.90,230.93 L123.30,230.92 L123.70,230.92 L124.10,230.92 L124.50,230.91 L124.60,230.91 M125.65,230.90 L126.05,230.89 L126.35,230.89 M127.35,230.88 L127.75,230.87 L128.15,230.87 L128.55,230.87 L128.95,230.86 L129.35,230.86 L129.75,230.85 L130.15,230.85 L130.55,230.84 L130.65,230.84 M131.70,230.83 L132.10,230.82 L132.40,230.82 M133.45,230.81 L133.85,230.80 L134.25,230.80 L134.65,230.79 L135.05,230.79 L135.45,230.78 L135.85,230.78 L136.25,230.77 L136.65,230.77 L136.75,230.77 M137.80,230.76 L138.20,230.75 L138.50,230.75 M139.50,230.73 L139.90,230.73 L140.30,230.72 L140.70,230.72 L141.10,230.71 L141.50,230.71 L141.90,230.70 L142.30,230.70 L142.70,230.69 L142.80,230.69 M143.85,230.67 L144.25,230.67 L144.55,230.66 M145.55,230.65 L145.95,230.64 L146.35,230.64 L146.75,230.63 L147.15,230.63 L147.55,230.62 L147.95,230.62 L148.35,230.61 L148.75,230.60 L148.85,230.60 M149.90,230.59 L150.30,230.58 L150.60,230.57 M151.65,230.56 L152.05,230.55 L152.45,230.55 L152.85,230.54 L153.25,230.53 L153.65,230.53 L154.05,230.52 L154.45,230.51 L154.85,230.51 L154.95,230.50 M156.00,230.49 L156.40,230.48 L156.70,230.47 M157.70,230.46 L158.10,230.45 L158.50,230.44 L158.90,230.44 L159.30,230.43 L159.70,230.42 L160.10,230.41 L160.50,230.41 L160.90,230.40 L161.00,230.40 M162.05,230.38 L162.45,230.37 L162.75,230.36 M163.80,230.34 L164.20,230.34 L164.60,230.33 L165.00,230.32 L165.40,230.31 L165.80,230.30 L166.20,230.30 L166.60,230.29 L167.00,230.28 L167.10,230.28 M168.15,230.26 L168.55,230.25 L168.85,230.24 M169.85,230.22 L170.25,230.21 L170.65,230.20 L171.05,230.19 L171.45,230.19 L171.85,230.18 L172.25,230.17 L172.65,230.16 L173.05,230.15 L173.15,230.15 M174.20,230.12 L174.60,230.11 L174.90,230.11 M175.90,230.08 L176.30,230.07 L176.70,230.07 L177.10,230.06 L177.50,230.05 L177.90,230.04 L178.30,230.03 L178.70,230.02 L179.10,230.01 L179.20,230.00 M180.25,229.98 L180.65,229.97 L180.95,229.96 M182.00,229.93 L182.40,229.92 L182.80,229.91 L183.20,229.90 L183.60,229.89 L184.00,229.88 L184.40,229.87 L184.80,229.86 L185.20,229.85 L185.30,229.84 M186.35,229.82 L186.75,229.80 L187.05,229.80 M188.05,229.77 L188.45,229.76 L188.85,229.74 L189.25,229.73 L189.65,229.72 L190.05,229.71 L190.45,229.70 L190.85,229.69 L191.25,229.67 L191.35,229.67 M192.40,229.64 L192.80,229.63 L193.10,229.62 M194.10,229.59 L194.50,229.57 L194.90,229.56 L195.30,229.55 L195.70,229.54 L196.10,229.52 L196.50,229.51 L196.90,229.50 L197.30,229.48 L197.40,229.48 M198.45,229.45 L198.85,229.43 L199.15,229.42 M200.20,229.39 L200.60,229.37 L201.00,229.36 L201.40,229.35 L201.80,229.33 L202.20,229.32 L202.60,229.31 L203.00,229.29 L203.40,229.28 L203.50,229.28 M204.55,229.24 L204.95,229.23 L205.25,229.22 M206.25,229.18 L206.65,229.17 L207.05,229.15 L207.45,229.14 L207.85,229.12 L208.25,229.11 L208.65,229.09 L209.05,229.08 L209.45,229.07 L209.55,229.06 M210.60,229.02 L211.00,229.01 L211.30,229.00 M212.30,228.96 L212.70,228.95 L213.10,228.93 L213.50,228.92 L213.90,228.90 L214.30,228.89 L214.70,228.87 L215.10,228.86 L215.50,228.84 L215.60,228.84 M216.65,228.80 L217.05,228.79 L217.35,228.77 M218.40,228.73 L218.80,228.72 L219.20,228.70 L219.60,228.69 L220.00,228.67 L220.40,228.66 L220.80,228.64 L221.20,228.63 L221.60,228.61 L221.70,228.61 M222.75,228.57 L223.15,228.55 L223.45,228.54 M224.45,228.51 L224.85,228.49 L225.25,228.47 L225.65,228.46 L226.05,228.44 L226.45,228.43 L226.85,228.41 L227.25,228.40 L227.65,228.38 L227.75,228.38 M228.80,228.34 L229.20,228.32 L229.50,228.31 M230.50,228.27 L230.90,228.26 L231.30,228.24 L231.70,228.23 L232.10,228.21 L232.50,228.20 L232.90,228.18 L233.30,228.17 L233.70,228.15 L233.80,228.15 M234.85,228.11 L235.25,228.09 L235.55,228.08 M236.60,228.04 L237.00,228.03 L237.40,228.01 L237.80,227.99 L238.20,227.98 L238.60,227.96 L239.00,227.95 L239.40,227.93 L239.80,227.92 L239.90,227.92 M240.95,227.88 L241.35,227.86 L241.65,227.85 M242.65,227.81 L243.05,227.80 L243.45,227.79 L243.85,227.77 L244.25,227.76 L244.65,227.74 L245.05,227.73 L245.45,227.71 L245.85,227.70 L245.95,227.69 M247.00,227.66 L247.40,227.64 L247.70,227.63 M248.70,227.60 L249.10,227.58 L249.50,227.57 L249.90,227.56 L250.30,227.54 L250.70,227.53 L251.10,227.52 L251.50,227.50 L251.90,227.49 L252.00,227.48 M253.05,227.45 L253.45,227.44 L253.75,227.43 M254.80,227.39 L255.20,227.38 L255.60,227.37 L256.00,227.35 L256.40,227.34 L256.80,227.33 L257.20,227.31 L257.60,227.30 L258.00,227.29 L258.10,227.29 M259.15,227.25 L259.55,227.24 L259.85,227.23 M260.85,227.20 L261.25,227.19 L261.65,227.17 L262.05,227.16 L262.45,227.15 L262.85,227.14 L263.25,227.12 L263.65,227.11 L264.05,227.10 L264.15,227.10 M265.20,227.06 L265.60,227.05 L265.90,227.04 M266.90,227.01 L267.30,227.00 L267.70,226.99 L268.10,226.97 L268.50,226.96 L268.90,226.95 L269.30,226.94 L269.70,226.93 L270.10,226.91 L270.20,226.91 M271.25,226.88 L271.65,226.87 L271.95,226.86 M273.00,226.82 L273.40,226.81 L273.80,226.80 L274.20,226.79 L274.60,226.77 L275.00,226.76 L275.40,226.75 L275.80,226.74 L276.20,226.72 L276.30,226.72 M277.35,226.69 L277.75,226.67 L278.05,226.66 M279.05,226.63 L279.45,226.62 L279.85,226.61 L280.25,226.59 L280.65,226.58 L281.05,226.57 L281.45,226.55 L281.85,226.54 L282.25,226.53 L282.35,226.52 M283.40,226.49 L283.80,226.48 L284.10,226.47 M285.10,226.43 L285.50,226.42 L285.90,226.40 L286.30,226.39 L286.70,226.38 L287.10,226.36 L287.50,226.35 L287.90,226.33 L288.30,226.32 L288.40,226.32 M289.45,226.28 L289.85,226.26 L290.15,226.25 M291.20,226.22 L291.60,226.20 L292.00,226.19 L292.40,226.17 L292.80,226.16 L293.20,226.14 L293.60,226.13 L294.00,226.11 L294.40,226.10 L294.50,226.10 M295.55,226.06 L295.95,226.04 L296.25,226.03 M297.25,225.99 L297.65,225.98 L298.05,225.96 L298.45,225.95 L298.85,225.93 L299.25,225.92 L299.65,225.90 L300.05,225.89 L300.45,225.87 L300.55,225.87 M301.60,225.83 L302.00,225.82 L302.30,225.80 M303.30,225.77 L303.70,225.75 L304.10,225.74 L304.50,225.72 L304.90,225.71 L305.30,225.69 L305.70,225.68 L306.10,225.66 L306.50,225.65 L306.60,225.64 M307.65,225.60 L308.05,225.59 L308.35,225.58 M309.40,225.54 L309.80,225.52 L310.20,225.51 L310.60,225.49 L311.00,225.48 L311.40,225.47 L311.80,225.45 L312.20,225.44 L312.60,225.42 L312.65,225.42 M313.70,225.38 L314.10,225.37 L314.40,225.36 M315.45,225.32 L315.85,225.30 L316.25,225.29 L316.65,225.28 L317.05,225.26 L317.45,225.25 L317.85,225.23 L318.25,225.22 L318.65,225.21 L318.75,225.20 M319.80,225.17 L320.20,225.15 L320.50,225.14 M321.50,225.11 L321.90,225.09 L322.30,225.08 L322.70,225.07 L323.10,225.05 L323.50,225.04 L323.90,225.03 L324.30,225.01 L324.70,225.00 L324.80,225.00 M325.85,224.96 L326.25,224.95 L326.55,224.94 M327.60,224.90 L328.00,224.89 L328.40,224.88 L328.80,224.86 L329.20,224.85 L329.60,224.84 L330.00,224.82 L330.40,224.81 L330.80,224.80 L330.85,224.80 M331.90,224.76 L332.30,224.75 L332.60,224.74 M333.65,224.70 L334.05,224.69 L334.45,224.68 L334.85,224.66 L335.25,224.65 L335.65,224.64 L336.05,224.63 L336.45,224.61 L336.85,224.60 L336.95,224.60 M338.00,224.56 L338.40,224.55 L338.70,224.54 M339.70,224.51 L340.10,224.49 L340.50,224.48 L340.90,224.47 L341.30,224.46 L341.70,224.44 L342.10,224.43 L342.50,224.42 L342.90,224.40 L343.00,224.40 M344.05,224.37 L344.45,224.35 L344.75,224.34 M345.80,224.31 L346.20,224.30 L346.60,224.28 L347.00,224.27 L347.40,224.26 L347.80,224.24 L348.20,224.23 L348.60,224.22 L349.00,224.20 L349.05,224.20 M350.10,224.17 L350.50,224.15 L350.80,224.14 M351.85,224.11 L352.25,224.10 L352.65,224.08 L353.05,224.07 L353.45,224.06 L353.85,224.04 L354.25,224.03 L354.65,224.01 L355.05,224.00 L355.15,224.00 M356.20,223.96 L356.60,223.95 L356.90,223.94 M357.90,223.90 L358.30,223.89 L358.70,223.88 L359.10,223.86 L359.50,223.85 L359.90,223.83 L360.30,223.82 L360.70,223.81 L361.10,223.79 L361.20,223.79 M362.25,223.75 L362.65,223.74 L362.95,223.73 M364.00,223.69 L364.40,223.67 L364.80,223.66 L365.20,223.64 L365.60,223.63 L366.00,223.62 L366.40,223.60 L366.80,223.59 L367.20,223.57 L367.25,223.57 M368.30,223.53 L368.70,223.51 L369.00,223.50 M370.05,223.46 L370.45,223.45 L370.85,223.43 L371.25,223.42 L371.65,223.40 L372.05,223.39 L372.45,223.37 L372.85,223.36 L373.25,223.34 L373.35,223.34 M374.40,223.29 L374.80,223.28 L375.10,223.27 M376.10,223.23 L376.50,223.21 L376.90,223.19 L377.30,223.18 L377.70,223.16 L378.10,223.14 L378.50,223.13 L378.90,223.11 L379.00,223.11" stroke="#0000ff" stroke-width="1.35"/>
<path d="M54.5,56.34 L56.0,56.33 L57.5,56.37 L59.0,56.46 L60.5,56.59 L62.0,56.77 L63.5,57.00 L65.0,57.27 L66.5,57.59 L68.0,57.95 L69.5,58.37 L71.0,58.83 L72.5,59.34 L74.0,59.90 L75.5,60.51 L77.0,61.17 L78.5,61.88 L80.0,62.65 L81.5,63.49 L83.0,64.39 L84.5,65.37 L86.0,66.44 L87.5,67.59 L89.0,68.84 L90.5,70.19 L92.0,71.64 L93.5,73.21 L95.0,74.88 L96.5,76.64 L98.0,78.50 L99.5,80.44 L101.0,82.45 L102.5,84.54 L104.0,86.69 L105.5,88.89 L107.0,91.15 L108.5,93.45 L110.0,95.79 L111.5,98.16 L113.0,100.56 L114.5,102.97 L116.0,105.39 L117.5,107.83 L119.0,110.27 L120.5,112.71 L122.0,115.15 L123.5,117.58 L125.0,120.00 L126.5,122.40 L128.0,124.79 L129.5,127.15 L131.0,129.50 L132.5,131.82 L134.0,134.12 L135.5,136.39 L137.0,138.63 L138.5,140.85 L140.0,143.03 L141.5,145.18 L143.0,147.30 L144.5,149.37 L146.0,151.42 L147.5,153.42 L149.0,155.38 L150.5,157.30 L152.0,159.17 L153.5,161.00 L155.0,162.78 L156.5,164.51 L158.0,166.18 L159.5,167.81 L161.0,169.38 L162.5,170.90 L164.0,172.36 L165.5,173.77 L167.0,175.13 L168.5,176.44 L170.0,177.70 L171.5,178.92 L173.0,180.09 L174.5,181.22 L176.0,182.30 L177.5,183.34 L179.0,184.34 L180.5,185.30 L182.0,186.23 L183.5,187.11 L185.0,187.97 L186.5,188.78 L188.0,189.57 L189.5,190.32 L191.0,191.05 L192.5,191.74 L194.0,192.41 L195.5,193.04 L197.0,193.65 L198.5,194.23 L200.0,194.79 L201.5,195.32 L203.0,195.82 L204.5,196.30 L206.0,196.76 L207.5,197.19 L209.0,197.60 L210.5,197.98 L212.0,198.34 L213.5,198.69 L215.0,199.01 L216.5,199.31 L218.0,199.59 L219.5,199.85 L221.0,200.09 L222.5,200.31 L224.0,200.52 L225.5,200.71 L227.0,200.88 L228.5,201.04 L230.0,201.18 L231.5,201.30 L233.0,201.42 L234.5,201.51 L236.0,201.60 L237.5,201.67 L239.0,201.73 L240.5,201.78 L242.0,201.82 L243.5,201.85 L245.0,201.86 L246.5,201.87 L248.0,201.87 L249.5,201.86 L251.0,201.85 L252.5,201.82 L254.0,201.79 L255.5,201.76 L257.0,201.72 L258.5,201.67 L260.0,201.62 L261.5,201.57 L263.0,201.51 L264.5,201.45 L266.0,201.39 L267.5,201.33 L269.0,201.26 L270.5,201.20 L272.0,201.13 L273.5,201.07 L275.0,201.00 L276.5,200.93 L278.0,200.86 L279.5,200.80 L281.0,200.72 L282.5,200.65 L284.0,200.58 L285.5,200.51 L287.0,200.43 L288.5,200.36 L290.0,200.28 L291.5,200.21 L293.0,200.13 L294.5,200.05 L296.0,199.97 L297.5,199.89 L299.0,199.81 L300.5,199.73 L302.0,199.65 L303.5,199.57 L305.0,199.48 L306.5,199.40 L308.0,199.31 L309.5,199.23 L311.0,199.14 L312.5,199.05 L314.0,198.96 L315.5,198.87 L317.0,198.78 L318.5,198.69 L320.0,198.60 L321.5,198.50 L323.0,198.41 L324.5,198.32 L326.0,198.22 L327.5,198.12 L329.0,198.03 L330.5,197.93 L332.0,197.83 L333.5,197.73 L335.0,197.63 L336.5,197.53 L338.0,197.43 L339.5,197.32 L341.0,197.22 L342.5,197.12 L344.0,197.01 L345.5,196.90 L347.0,196.80 L348.5,196.69 L350.0,196.58 L351.5,196.47 L353.0,196.36 L354.5,196.25 L356.0,196.14 L357.5,196.03 L359.0,195.91 L360.5,195.80 L362.0,195.68 L363.5,195.57 L365.0,195.45 L366.5,195.33 L368.0,195.21 L369.5,195.10 L371.0,194.98 L372.5,194.85 L374.0,194.73 L375.5,194.61 L377.0,194.49 L378.5,194.36 L379.0,194.32" stroke="#ff0000" stroke-width="1.42"/>
<path d="M54.5,195.02 L56.0,195.00 L57.5,194.95 L59.0,194.87 L60.5,194.77 L62.0,194.63 L63.5,194.47 L65.0,194.29 L66.5,194.08 L68.0,193.86 L69.5,193.61 L71.0,193.36 L72.5,193.08 L74.0,192.80 L75.5,192.50 L77.0,192.19 L78.5,191.88 L80.0,191.56 L81.5,191.23 L83.0,190.90 L84.5,190.57 L86.0,190.22 L87.5,189.87 L89.0,189.51 L90.5,189.15 L92.0,188.77 L93.5,188.38 L95.0,187.97 L96.5,187.55 L98.0,187.12 L99.5,186.67 L101.0,186.21 L102.5,185.72 L104.0,185.22 L105.5,184.70 L107.0,184.16 L108.5,183.59 L110.0,183.00 L111.5,182.39 L113.0,181.74 L114.5,181.07 L116.0,180.37 L117.5,179.64 L119.0,178.88 L120.5,178.10 L122.0,177.31 L123.5,176.50 L125.0,175.68 L126.5,174.86 L128.0,174.03 L129.5,173.20 L131.0,172.38 L132.5,171.56 L134.0,170.75 L135.5,169.95 L137.0,169.16 L138.5,168.39 L140.0,167.62 L141.5,166.88 L143.0,166.14 L144.5,165.43 L146.0,164.73 L147.5,164.06 L149.0,163.41 L150.5,162.78 L152.0,162.18 L153.5,161.60 L155.0,161.05 L156.5,160.53 L158.0,160.04 L159.5,159.58 L161.0,159.16 L162.5,158.77 L164.0,158.41 L165.5,158.10 L167.0,157.82 L168.5,157.58 L170.0,157.39 L171.5,157.24 L173.0,157.13 L174.5,157.07 L176.0,157.06 L177.5,157.09 L179.0,157.17 L180.5,157.30 L182.0,157.47 L183.5,157.69 L185.0,157.96 L186.5,158.28 L188.0,158.64 L189.5,159.05 L191.0,159.50 L192.5,160.00 L194.0,160.55 L195.5,161.14 L197.0,161.78 L198.5,162.46 L200.0,163.18 L201.5,163.94 L203.0,164.73 L204.5,165.57 L206.0,166.43 L207.5,167.34 L209.0,168.27 L210.5,169.23 L212.0,170.22 L213.5,171.23 L215.0,172.25 L216.5,173.29 L218.0,174.35 L219.5,175.41 L221.0,176.48 L222.5,177.55 L224.0,178.61 L225.5,179.68 L227.0,180.73 L228.5,181.77 L230.0,182.79 L231.5,183.80 L233.0,184.79 L234.5,185.77 L236.0,186.75 L237.5,187.71 L239.0,188.68 L240.5,189.64 L242.0,190.61 L243.5,191.59 L245.0,192.59 L246.5,193.59 L248.0,194.61 L249.5,195.62 L251.0,196.61 L252.5,197.59 L254.0,198.54 L255.5,199.45 L257.0,200.34 L258.5,201.19 L260.0,202.03 L261.5,202.84 L263.0,203.62 L264.5,204.39 L266.0,205.14 L267.5,205.87 L269.0,206.59 L270.5,207.30 L272.0,207.99 L273.5,208.68 L275.0,209.36 L276.5,210.03 L278.0,210.70 L279.5,211.36 L281.0,212.00 L282.5,212.63 L284.0,213.25 L285.5,213.84 L287.0,214.42 L288.5,214.97 L290.0,215.50 L291.5,216.01 L293.0,216.48 L294.5,216.92 L296.0,217.34 L297.5,217.72 L299.0,218.09 L300.5,218.42 L302.0,218.73 L303.5,219.02 L305.0,219.29 L306.5,219.54 L308.0,219.77 L309.5,219.98 L311.0,220.18 L312.5,220.36 L314.0,220.53 L315.5,220.69 L317.0,220.84 L318.5,220.97 L320.0,221.10 L321.5,221.22 L323.0,221.34 L324.5,221.45 L326.0,221.56 L327.5,221.67 L329.0,221.77 L330.5,221.88 L332.0,221.99 L333.5,222.10 L335.0,222.21 L336.5,222.32 L338.0,222.43 L339.5,222.53 L341.0,222.64 L342.5,222.74 L344.0,222.84 L345.5,222.93 L347.0,223.02 L348.5,223.11 L350.0,223.18 L351.5,223.26 L353.0,223.32 L354.5,223.38 L356.0,223.42 L357.5,223.46 L359.0,223.49 L360.5,223.51 L362.0,223.51 L363.5,223.51 L365.0,223.49 L366.5,223.46 L368.0,223.42 L369.5,223.36 L371.0,223.29 L372.5,223.20 L374.0,223.09 L375.5,222.97 L377.0,222.83 L378.5,222.68 L379.0,222.62" stroke="#0000ff" stroke-width="1.42"/>
</g>
<path d="M54.5,13.5 H379.0 V232.0 H54.5 Z M54.50,232.0 v-3.2 M54.50,13.5 v3.2 M70.72,232.0 v-1.6 M70.72,13.5 v1.6 M86.95,232.0 v-1.6 M86.95,13.5 v1.6 M103.17,232.0 v-1.6 M103.17,13.5 v1.6 M119.40,232.0 v-3.2 M119.40,13.5 v3.2 M135.62,232.0 v-1.6 M135.62,13.5 v1.6 M151.85,232.0 v-1.6 M151.85,13.5 v1.6 M168.07,232.0 v-1.6 M168.07,13.5 v1.6 M184.30,232.0 v-3.2 M184.30,13.5 v3.2 M200.53,232.0 v-1.6 M200.53,13.5 v1.6 M216.75,232.0 v-1.6 M216.75,13.5 v1.6 M232.98,232.0 v-1.6 M232.98,13.5 v1.6 M249.20,232.0 v-3.2 M249.20,13.5 v3.2 M265.43,232.0 v-1.6 M265.43,13.5 v1.6 M281.65,232.0 v-1.6 M281.65,13.5 v1.6 M297.88,232.0 v-1.6 M297.88,13.5 v1.6 M314.10,232.0 v-3.2 M314.10,13.5 v3.2 M330.32,232.0 v-1.6 M330.32,13.5 v1.6 M346.55,232.0 v-1.6 M346.55,13.5 v1.6 M362.77,232.0 v-1.6 M362.77,13.5 v1.6 M379.00,232.0 v-3.2 M379.00,13.5 v3.2 M54.5,232.00 h3.2 M379.0,232.00 h-3.2 M54.5,217.43 h1.6 M379.0,217.43 h-1.6 M54.5,202.87 h1.6 M379.0,202.87 h-1.6 M54.5,188.30 h1.6 M379.0,188.30 h-1.6 M54.5,173.73 h1.6 M379.0,173.73 h-1.6 M54.5,159.17 h3.2 M379.0,159.17 h-3.2 M54.5,144.60 h1.6 M379.0,144.60 h-1.6 M54.5,130.03 h1.6 M379.0,130.03 h-1.6 M54.5,115.47 h1.6 M379.0,115.47 h-1.6 M54.5,100.90 h1.6 M379.0,100.90 h-1.6 M54.5,86.33 h3.2 M379.0,86.33 h-3.2 M54.5,71.77 h1.6 M379.0,71.77 h-1.6 M54.5,57.20 h1.6 M379.0,57.20 h-1.6 M54.5,42.63 h1.6 M379.0,42.63 h-1.6 M54.5,28.07 h1.6 M379.0,28.07 h-1.6 M54.5,13.50 h3.2 M379.0,13.50 h-3.2" fill="none" stroke="#000" stroke-width="1"/>
<g font-family="Liberation Sans, sans-serif" fill="#000" stroke="#000" stroke-width="0.18"><text x="47.6" y="235.70" font-size="10.3" text-anchor="end">0</text>
<text x="47.6" y="162.87" font-size="10.3" text-anchor="end">0.5</text>
<text x="47.6" y="90.03" font-size="10.3" text-anchor="end">1</text>
<text x="47.6" y="17.20" font-size="10.3" text-anchor="end">1.5</text>
<text x="55.60" y="247.6" font-size="10.3" text-anchor="middle">0</text>
<text x="120.50" y="247.6" font-size="10.3" text-anchor="middle">2</text>
<text x="185.40" y="247.6" font-size="10.3" text-anchor="middle">4</text>
<text x="250.30" y="247.6" font-size="10.3" text-anchor="middle">6</text>
<text x="315.20" y="247.6" font-size="10.3" text-anchor="middle">8</text>
<text x="380.70" y="247.6" font-size="10.3" text-anchor="middle">10</text>
<text x="135.3" y="31.1" font-size="13" textLength="78.6" lengthAdjust="spacingAndGlyphs">Central PbPb</text>
<text x="217.5" y="31.6" font-size="9.3">√</text>
<text x="223.0" y="31.15" font-size="13">S</text>
<text x="227.5" y="34.75" font-size="10.3" textLength="15.2" lengthAdjust="spacingAndGlyphs">NN</text>
<text x="242.6" y="31.2" font-size="13">=</text>
<text x="253.7" y="31.25" font-size="13" textLength="52.0" lengthAdjust="spacingAndGlyphs">2.76TeV</text>
<text x="309.3" y="31.4" font-size="13" textLength="65.5" lengthAdjust="spacingAndGlyphs">1.6&lt;|y|&lt;2.4</text>
<text x="193.8" y="263" font-size="13">p</text>
<text x="200.8" y="267" font-size="10.4">t</text>
<text x="203.6" y="263" font-size="13" textLength="36.1" lengthAdjust="spacingAndGlyphs">(GeV)</text>
<g transform="translate(11.4,134.9) rotate(-90)"><text x="0" y="0" font-size="13">R</text><text x="8.9" y="5.4" font-size="10.4">AA</text></g>
<path d="M249.8,48.05 H280" stroke="#ff0000" stroke-width="1.5" fill="none" stroke-dasharray="1.35 1.43"/>
<text x="286.6" y="51.90" font-size="11">reg J/</text>
<path d="M249.8,59.10 H280" stroke="#0000ff" stroke-width="1.5" fill="none" stroke-dasharray="1.35 1.43"/>
<text x="286.6" y="62.88" font-size="11">reg</text>
<path d="M249.8,70.15 H280" stroke="#ff0000" stroke-width="1.35" fill="none" stroke-dasharray="3.35 1.0 0.75 0.97"/>
<text x="286.6" y="73.86" font-size="11">prim J/</text>
<path d="M249.8,81.20 H280" stroke="#0000ff" stroke-width="1.35" fill="none" stroke-dasharray="3.35 1.0 0.75 0.97"/>
<text x="286.6" y="84.84" font-size="11">prim</text>
<path d="M249.8,92.25 H280" stroke="#ff0000" stroke-width="1.25" fill="none"/>
<text x="286.6" y="95.82" font-size="11">total J/</text>
<path d="M249.8,103.30 H280" stroke="#0000ff" stroke-width="1.25" fill="none"/>
<text x="286.6" y="106.80" font-size="11">total</text>
<path d="M315.81,46.20 C316.01,49.50 317.01,51.35 318.51,51.40 C320.01,51.35 321.01,49.50 321.31,46.20 M318.51,46.00 V53.90 M307.25,57.18 C307.45,60.48 308.45,62.33 309.95,62.38 C311.45,62.33 312.45,60.48 312.75,57.18 M309.95,56.98 V64.88 M313.55,57.28 L315.55,54.78 M321.30,68.16 C321.50,71.46 322.50,73.31 324.00,73.36 C325.50,73.31 326.50,71.46 326.80,68.16 M324.00,67.96 V75.86 M312.74,79.14 C312.94,82.44 313.94,84.29 315.44,84.34 C316.94,84.29 317.94,82.44 318.24,79.14 M315.44,78.94 V86.84 M319.04,79.24 L321.04,76.74 M320.70,90.12 C320.90,93.42 321.90,95.27 323.40,95.32 C324.90,95.27 325.90,93.42 326.20,90.12 M323.40,89.92 V97.82 M312.15,101.10 C312.35,104.40 313.35,106.25 314.85,106.30 C316.35,106.25 317.35,104.40 317.65,101.10 M314.85,100.90 V108.80 M318.45,101.20 L320.45,98.70" fill="none" stroke="#000" stroke-width="1.15" stroke-linecap="butt" stroke-linejoin="round"/></g>
</svg>
</body></html>
